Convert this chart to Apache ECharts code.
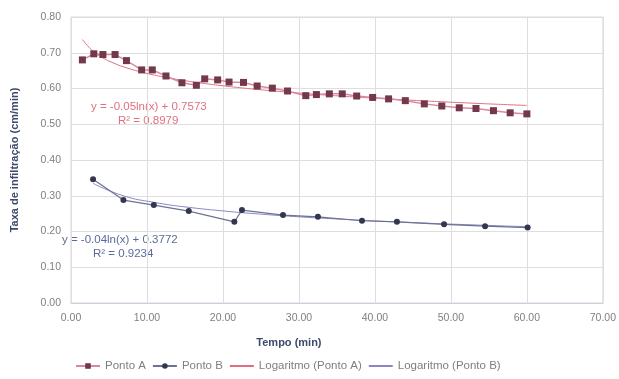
<!DOCTYPE html>
<html>
<head>
<meta charset="utf-8">
<script src="https://cdn.jsdelivr.net/npm/echarts@6/dist/echarts.min.js"></script>
<style>
  html, body { margin: 0; padding: 0; background: #fff; }
  #chart { width: 619px; height: 379px; }
</style>
</head>
<body>
<div id="chart"></div>
<script>
// Ponto A: time (min) and infiltration rate (cm/min)
const tempoA = [1.5, 3.0, 4.2, 5.8, 7.3, 9.3, 10.7, 12.5, 14.6, 16.5, 17.6, 19.3, 20.8, 22.7, 24.5, 26.5,
                28.5, 30.9, 32.3, 34.0, 35.7, 37.6, 39.7, 41.8, 44.0, 46.5, 48.8, 51.1, 53.3, 55.6, 57.8, 60.0];
const taxaA  = [0.680, 0.697, 0.695, 0.695, 0.678, 0.652, 0.652, 0.635, 0.616, 0.609, 0.627, 0.624, 0.618, 0.617, 0.607, 0.601,
                0.593, 0.580, 0.583, 0.585, 0.585, 0.579, 0.575, 0.571, 0.566, 0.557, 0.551, 0.546, 0.544, 0.538, 0.532, 0.529];

// Ponto B
const tempoB = [2.9, 6.9, 10.9, 15.5, 21.5, 22.5, 27.9, 32.5, 38.3, 42.9, 49.1, 54.5, 60.1];
const taxaB  = [0.346, 0.288, 0.274, 0.257, 0.227, 0.260, 0.246, 0.241, 0.230, 0.227, 0.220, 0.215, 0.211];

// Logarithmic trend lines: y = a*ln(x) + b
const coefA = [-0.05, 0.7573];
const coefB = [-0.04, 0.3772];
const r2A = '0.8979';
const r2B = '0.9234';

// Axis ticks
const xTicks = [0, 10, 20, 30, 40, 50, 60, 70];
const yTicks = [0, 0.1, 0.2, 0.3, 0.4, 0.5, 0.6, 0.7, 0.8];

const zip = (xs, ys) => xs.map((x, i) => [x, ys[i]]);
const trend = (xs, c) => xs.map(x => [x, c[0] * Math.log(x) + c[1]]);
const fmtEq = c => 'y = ' + c[0].toFixed(2) + 'ln(x) + ' + c[1].toFixed(4);

const chart = echarts.init(document.getElementById('chart'));
const font = 'Liberation Sans, Arial, sans-serif';
const colA = '#e0707f', colB = '#8a86c8';
chart.setOption({
  animation: false,
  backgroundColor: '#ffffff',
  textStyle: { fontFamily: font },
  grid: { left: 71, right: 14, top: 17, bottom: 76, show: true, borderColor: '#d9d9d9', borderWidth: 1 },
  xAxis: {
    type: 'value', min: xTicks[0], max: xTicks[xTicks.length - 1], interval: 10,
    name: 'Tempo (min)', nameLocation: 'middle', nameGap: 34,
    nameTextStyle: { color: '#3d4a6b', fontWeight: 'bold', fontSize: 11, fontFamily: font, padding: [0, 96, 0, 0] },
    axisLine: { show: true, lineStyle: { color: '#c7d0dc' } },
    axisTick: { show: false },
    splitLine: { show: true, lineStyle: { color: '#dedede' } },
    axisLabel: { color: '#7f7f7f', fontSize: 10.5, margin: 10, formatter: v => v.toFixed(2) }
  },
  yAxis: {
    type: 'value', min: yTicks[0], max: yTicks[yTicks.length - 1], interval: 0.1,
    name: 'Taxa de infiltração (cm/min)', nameLocation: 'middle', nameGap: 51,
    nameTextStyle: { color: '#3d4a6b', fontWeight: 'bold', fontSize: 11, fontFamily: font },
    axisLine: { show: false },
    axisTick: { show: false },
    splitLine: { show: true, lineStyle: { color: '#dedede' } },
    axisLabel: { color: '#7f7f7f', fontSize: 10.5, margin: 10, formatter: v => v.toFixed(2) }
  },
  legend: {
    bottom: 2, left: 70, itemGap: 6, itemWidth: 24, itemHeight: 7,
    textStyle: { color: '#7f7f7f', fontSize: 11.5, fontFamily: font },
    data: [
      'Ponto A', 'Ponto B',
      { name: 'Logaritmo (Ponto A)', itemStyle: { opacity: 0 } },
      { name: 'Logaritmo (Ponto B)', itemStyle: { opacity: 0 } }
    ]
  },
  series: [
    {
      name: 'Ponto A', type: 'line', data: zip(tempoA, taxaA),
      symbol: 'rect', symbolSize: 7,
      itemStyle: { color: '#73384c' },
      lineStyle: { color: '#d88a9c', width: 1.5 }, z: 3
    },
    {
      name: 'Ponto B', type: 'line', data: zip(tempoB, taxaB),
      symbol: 'circle', symbolSize: 6,
      itemStyle: { color: '#34354f' },
      lineStyle: { color: '#6d7290', width: 1.2 }, z: 3
    },
    {
      name: 'Logaritmo (Ponto A)', type: 'line', data: trend(tempoA, coefA),
      symbol: 'none', smooth: true,
      itemStyle: { color: colA },
      lineStyle: { color: colA, width: 1 }, z: 2
    },
    {
      name: 'Logaritmo (Ponto B)', type: 'line', data: trend(tempoB, coefB),
      symbol: 'none', smooth: true,
      itemStyle: { color: colB },
      lineStyle: { color: colB, width: 1 }, z: 2
    }
  ],
  graphic: [
    { type: 'text', left: 91, top: 101, style: { text: fmtEq(coefA), fill: colA, font: '11.5px ' + font } },
    { type: 'text', left: 118, top: 115, style: { text: 'R² = ' + r2A, fill: colA, font: '11.5px ' + font } },
    { type: 'text', left: 62, top: 234, style: { text: fmtEq(coefB), fill: '#5c6a9a', font: '11.5px ' + font } },
    { type: 'text', left: 93, top: 248, style: { text: 'R² = ' + r2B, fill: '#5c6a9a', font: '11.5px ' + font } }
  ]
});
</script>
</body>
</html>
